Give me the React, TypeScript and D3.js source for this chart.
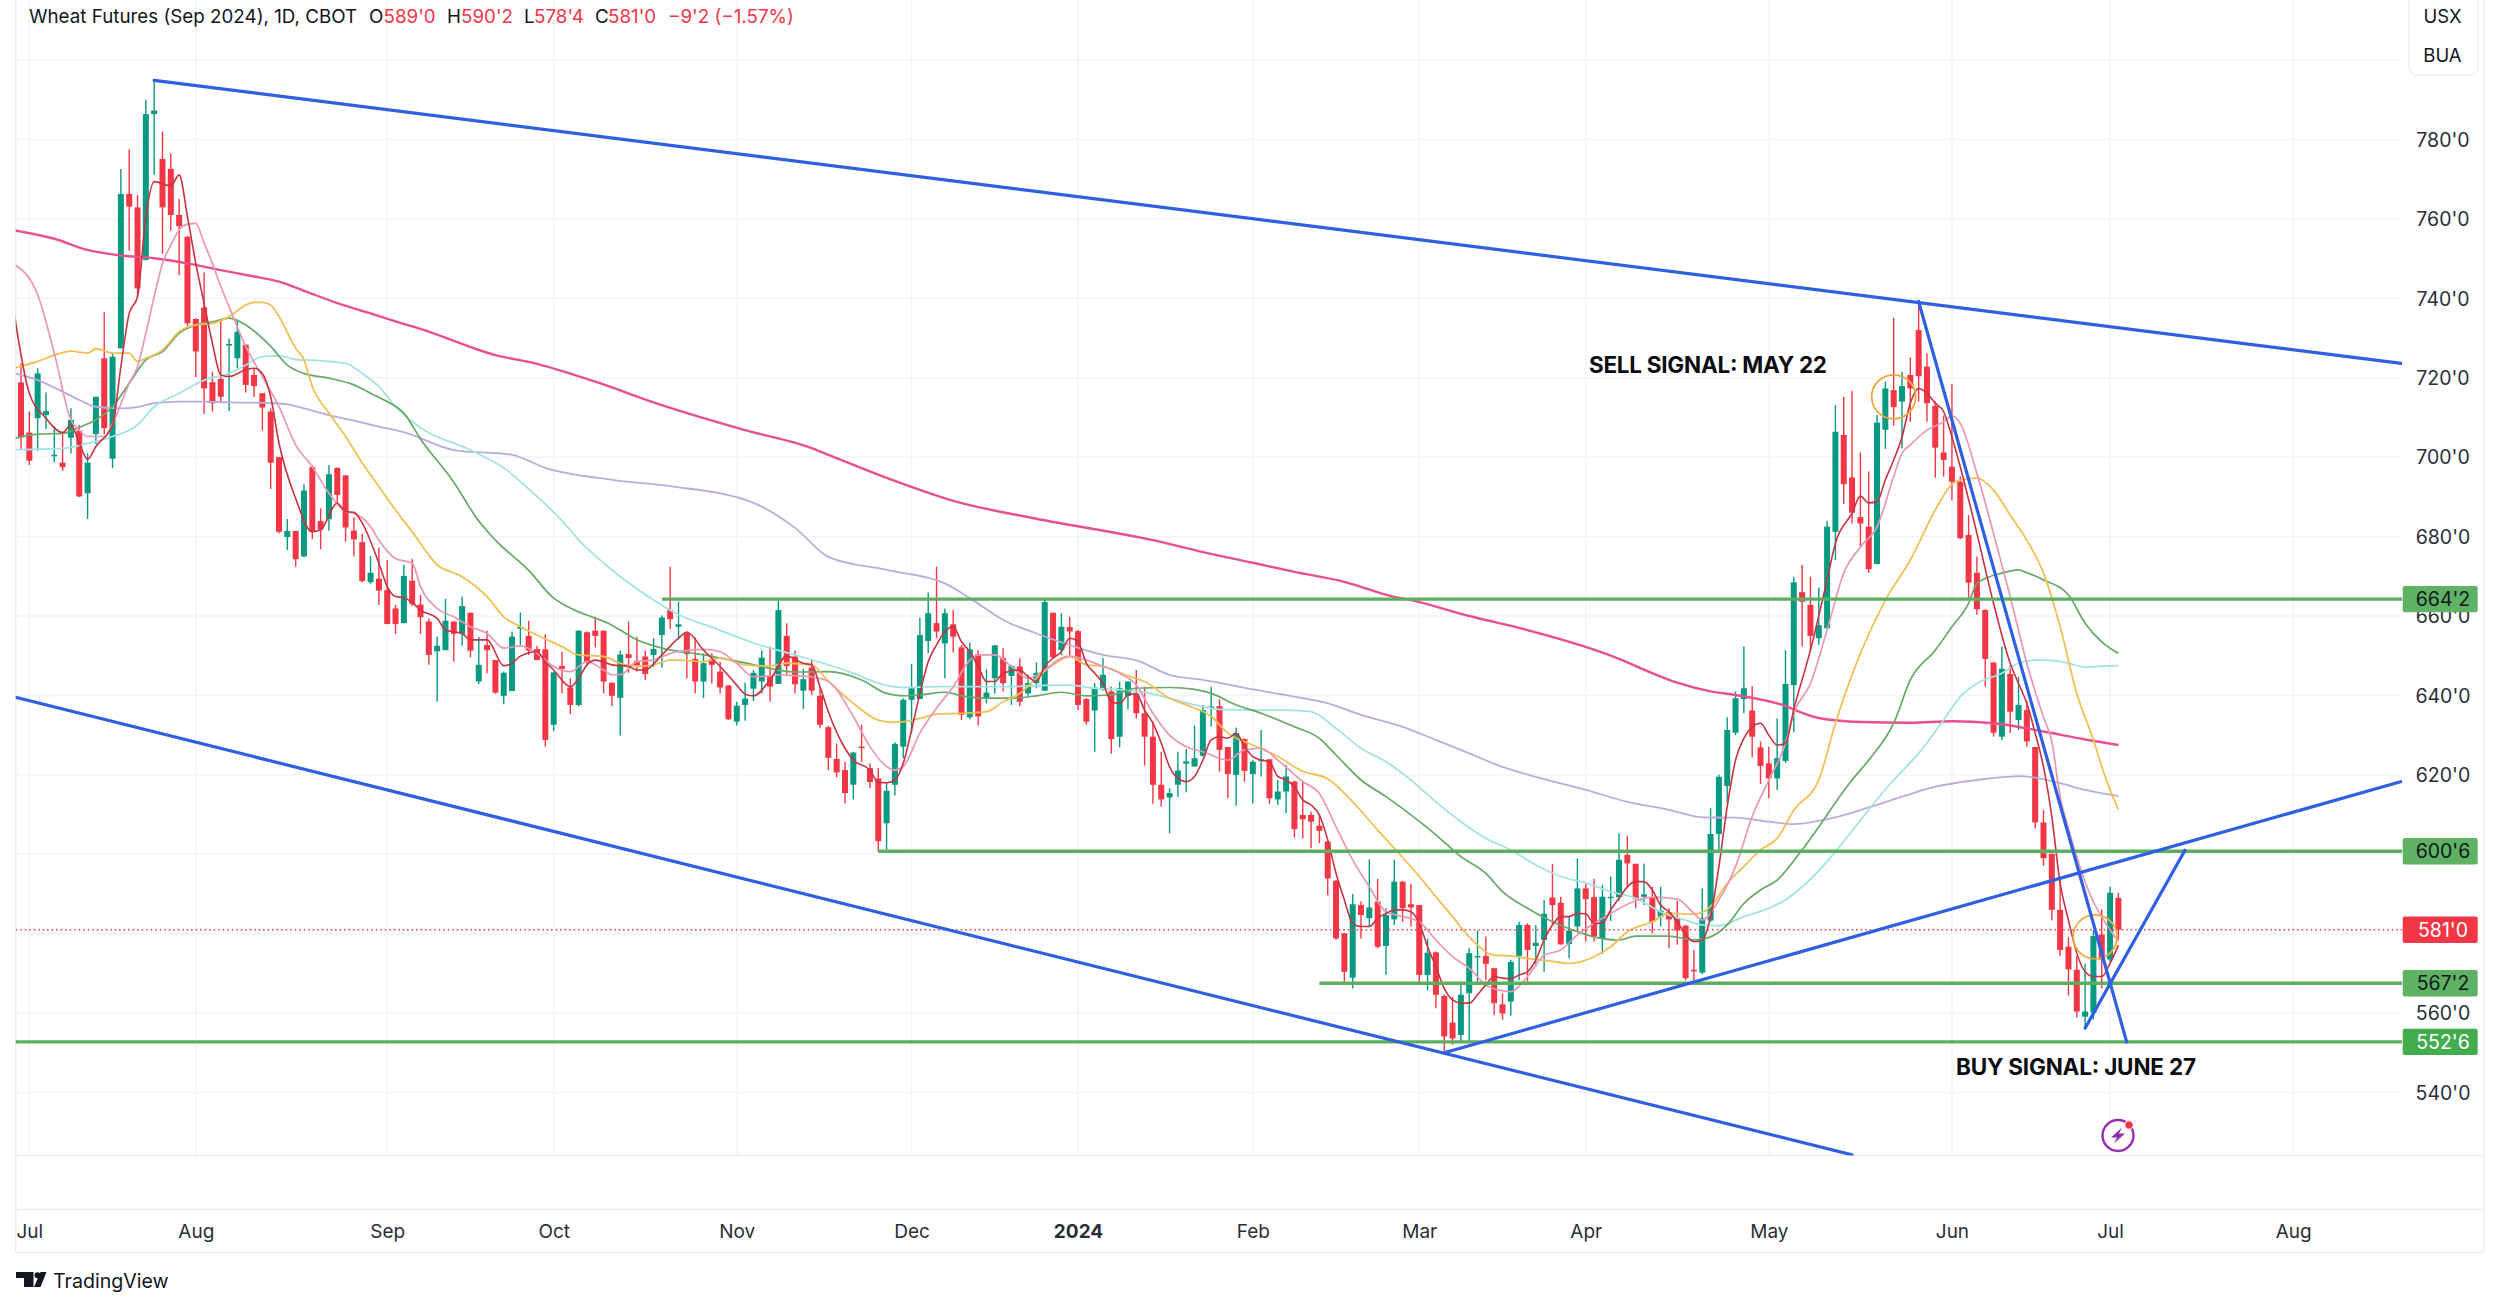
import React, { useEffect, useRef } from 'react';
import * as d3 from 'd3';

const opens = [
  718.8,706.2,709.8,710.6,700.3,698.6,704.9,706.7,690.9,705.8,
  724.9,699.6,727.4,766.3,762.9,749.7,786.4,775.1,772.6,761.0,
  755.5,734.8,737.7,718.9,719.7,728.1,724.9,728.3,720.7,716.1,
  711.5,700.0,679.9,681.4,675.0,697.5,683.9,684.4,697.3,695.4,
  681.5,678.6,668.5,669.4,666.5,661.9,658.2,668.9,662.9,658.6,
  651.1,651.4,658.6,655.5,660.8,643.5,652.7,648.9,639.9,641.1,
  656.8,655.0,651.7,651.6,632.6,647.4,642.0,637.6,655.9,656.3,
  656.3,643.2,639.4,650.4,648.7,649.8,650.2,655.2,661.5,657.3,
  655.6,649.2,643.5,649.1,646.0,642.5,633.4,637.6,641.7,643.5,
  645.0,642.9,655.0,649.8,641.2,647.0,639.9,632.0,624.0,621.2,
  617.5,627.1,621.7,619.1,607.8,617.5,627.1,638.9,639.1,653.7,
  658.2,653.1,657.9,652.1,634.5,650.4,639.3,644.3,649.4,644.9,
  647.3,640.5,643.1,641.2,660.8,651.4,657.2,656.2,639.1,636.2,
  641.4,641.0,629.6,639.9,640.4,635.5,629.6,617.5,614.3,617.5,
  622.8,622.1,624.8,637.0,637.3,627.0,620.0,629.0,620.2,623.6,
  623.9,613.8,615.8,618.3,609.9,609.9,607.2,603.2,593.3,580.1,
  568.9,587.2,583.9,588.1,576.9,583.6,593.1,587.4,587.2,569.6,
  575.3,564.3,557.6,554.5,565.0,574.0,574.4,571.3,562.2,562.9,
  574.4,582.2,576.9,578.4,589.1,587.8,577.4,581.8,591.4,589.2,
  578.8,589.1,589.2,599.8,597.6,589.3,589.2,584.3,585.4,583.9,
  582.0,570.9,570.2,583.3,605.1,617.2,630.6,639.1,636.2,626.9,
  622.9,619.1,623.5,642.6,666.0,662.8,654.4,656.9,681.2,705.6,
  694.9,684.9,682.5,673.1,706.9,716.9,714.0,720.7,732.0,722.8,
  712.9,701.2,697.6,693.8,680.4,670.9,661.5,648.3,629.6,645.4,
  633.8,636.3,627.0,608.0,600.1,586.0,576.7,570.9,559.1,560.1,
  579.8,573.5,589.0,
];
const closes = [
  705.0,699.1,721.1,711.6,700.6,697.5,709.4,690.1,698.6,715.2,
  707.3,725.3,766.3,763.1,742.5,786.4,787.3,762.9,761.0,758.2,
  733.7,726.6,717.3,713.6,715.2,728.5,731.6,718.2,717.9,712.5,
  698.6,681.2,681.4,674.3,691.6,681.2,681.8,695.7,690.5,682.3,
  679.3,668.8,670.9,666.4,658.0,658.0,670.1,663.0,659.7,650.2,
  652.5,658.8,655.5,662.5,651.3,647.7,651.4,640.7,645.7,654.8,
  657.3,651.3,648.9,628.8,645.8,646.7,637.6,656.3,648.3,655.0,
  643.5,639.9,650.3,649.4,647.5,645.4,651.7,659.6,659.2,657.9,
  650.4,643.5,648.1,647.7,642.0,634.0,637.4,639.2,645.7,649.5,
  642.2,661.5,647.4,642.8,644.1,641.2,632.6,624.3,620.6,615.4,
  625.6,626.7,618.2,603.3,616.0,627.8,638.9,641.8,655.2,660.7,
  656.1,660.7,654.8,635.1,651.6,634.7,640.7,652.6,643.1,647.4,
  638.4,643.1,645.7,663.5,649.6,657.3,656.1,637.6,633.4,642.0,
  645.2,629.0,641.8,643.5,635.5,629.6,617.5,613.8,615.4,621.1,
  623.4,624.2,636.3,637.2,626.3,620.2,630.5,621.0,623.3,623.9,
  614.1,615.8,619.6,606.3,608.8,608.2,605.9,593.9,578.8,570.4,
  587.4,584.7,586.6,576.7,584.7,593.1,586.4,586.6,569.6,575.2,
  564.6,554.1,553.6,564.6,575.1,574.4,572.4,562.5,559.9,572.9,
  582.2,575.9,577.7,585.0,587.2,577.3,580.8,591.4,588.7,579.3,
  589.3,589.3,598.6,597.7,588.7,589.9,583.0,585.8,583.6,580.8,
  568.8,570.5,583.9,605.1,619.5,631.3,639.3,641.8,629.6,622.2,
  619.1,624.2,642.9,668.5,663.6,655.0,657.7,682.5,706.4,693.2,
  686.0,683.3,671.8,708.7,717.3,712.6,717.9,717.3,720.4,713.6,
  702.4,699.3,693.8,679.6,668.4,661.7,649.2,630.6,646.7,635.9,
  637.6,628.4,608.0,599.0,586.0,575.9,571.0,560.4,560.4,579.4,
  573.5,590.3,581.0,
];
const highs = [
  723.6,711.5,722.4,716.3,707.7,706.4,712.3,708.1,701.0,715.2,
  736.5,726.3,772.6,777.5,766.0,790.0,794.7,782.0,776.5,765.0,
  755.7,735.0,746.5,721.5,734.7,729.9,734.4,728.5,722.4,716.1,
  712.3,700.1,684.4,681.5,693.2,698.0,687.1,698.0,697.4,695.5,
  684.9,680.7,675.1,677.2,674.1,662.8,672.9,674.4,665.3,659.4,
  654.8,664.3,658.7,664.9,660.9,654.8,656.3,648.9,646.0,656.1,
  660.9,658.8,652.5,655.4,646.0,651.0,644.3,656.3,656.1,659.8,
  656.3,643.2,651.3,658.6,654.8,651.4,654.4,660.1,672.4,663.6,
  656.1,654.6,650.6,650.6,648.5,642.6,638.4,643.2,646.4,651.3,
  652.3,663.9,658.2,651.3,646.7,649.2,642.2,632.3,627.9,623.3,
  625.8,632.6,622.9,621.7,617.9,628.2,639.3,647.9,659.6,666.0,
  672.4,661.9,661.5,652.7,653.3,651.4,646.6,652.7,651.9,647.7,
  649.4,645.2,648.3,664.2,660.9,660.7,659.8,656.5,639.3,643.1,
  649.4,642.2,643.5,643.5,646.4,642.2,633.4,625.8,616.6,625.8,
  626.5,632.4,637.6,642.2,639.0,627.0,631.9,629.2,623.7,631.3,
  623.9,618.7,622.5,618.5,618.3,610.7,609.9,603.2,593.5,580.1,
  590.0,588.1,598.7,593.8,586.4,598.6,593.3,592.5,587.2,578.8,
  575.5,564.6,564.1,567.5,576.3,580.8,579.3,571.3,565.0,573.4,
  583.0,582.6,582.2,588.5,597.6,589.3,584.3,599.0,592.5,593.8,
  592.3,594.4,605.3,604.7,597.6,597.7,591.8,591.8,586.4,588.3,
  582.2,575.9,591.4,611.6,620.0,634.5,641.0,652.3,642.4,628.4,
  627.1,634.2,651.4,669.9,672.9,669.9,667.2,684.0,713.1,715.2,
  716.7,701.2,696.4,710.6,719.0,735.1,721.5,725.1,739.2,726.2,
  714.0,710.5,718.4,695.1,685.4,675.0,661.7,648.3,652.3,647.4,
  644.7,638.7,627.1,611.1,600.2,593.5,579.1,574.4,572.5,580.9,
  586.1,591.8,590.25,
];
const lows = [
  701.8,698.0,701.6,707.0,698.7,696.5,701.0,690.0,684.4,703.3,
  705.8,697.2,727.4,752.0,740.4,749.5,771.1,751.2,757.0,745.8,
  733.0,720.1,710.9,711.5,713.6,711.6,722.4,716.3,715.2,706.7,
  692.0,680.8,676.6,672.4,674.8,679.4,676.8,681.5,688.4,678.7,
  675.0,668.5,668.1,662.8,657.9,655.5,658.2,662.5,655.5,647.7,
  638.4,651.4,648.5,652.5,649.6,642.9,645.6,640.4,637.8,641.1,
  652.7,650.2,648.9,627.1,631.0,640.5,635.3,637.2,647.7,652.1,
  640.5,637.3,629.9,645.7,646.0,643.9,647.2,647.0,656.8,654.1,
  644.3,640.5,639.3,643.0,640.5,633.8,632.4,633.6,638.6,640.5,
  638.4,642.9,645.2,640.5,636.6,640.1,631.7,621.2,619.4,612.8,
  613.8,623.3,616.6,600.7,601.2,614.8,624.2,630.5,639.1,650.6,
  654.4,644.3,650.8,633.8,634.0,632.4,638.0,640.5,641.0,637.6,
  637.3,639.9,641.8,641.2,649.4,650.2,650.2,636.3,632.6,625.8,
  641.2,625.3,626.9,636.5,634.2,622.3,612.7,612.0,605.3,614.5,
  615.6,622.1,624.6,632.2,620.8,614.1,612.2,618.3,612.8,619.6,
  612.7,612.4,610.3,604.2,604.0,601.5,602.8,589.7,578.4,567.5,
  566.2,578.8,581.8,576.3,569.6,582.2,583.0,581.8,567.7,565.7,
  561.2,550.3,552.0,552.8,552.8,567.9,568.3,559.5,558.3,559.3,
  568.3,567.7,571.7,570.4,582.2,577.2,573.8,580.5,578.0,578.0,
  574.9,583.2,588.3,591.8,586.4,587.2,580.1,581.8,576.3,577.2,
  568.2,567.7,569.8,583.0,601.1,613.0,630.0,635.5,624.4,617.7,
  614.1,616.2,623.0,630.7,652.3,651.4,652.7,656.9,674.1,688.2,
  683.3,677.6,670.9,673.0,702.1,707.9,702.2,708.9,714.0,708.9,
  694.8,695.1,689.1,679.3,664.5,660.3,642.2,629.6,628.8,630.6,
  631.3,627.1,606.5,597.1,583.3,574.4,564.4,558.9,556.2,558.4,
  566.2,572.9,578.5,
];

// moving averages, [bar, price]
const fastAvg = [[-1,738.7],[1,716.1],[3,709.8],[5,706.2],[6,708.1],[7,703.5],[8,699.5],[9,702.7],[11,708.1],[12,722.8],[13,736.2],[14,740.4],[15,760.6],[16,769.4],[18,768.3],[19,771.1],[20,760.6],[21,748.8],[22,738.7],[23,728.7],[24,720.7],[25,720.3],[27,722],[28,722.4],[29,721.1],[30,715.2],[31,703.5],[33,689.6],[35,681.2],[36,681.7],[38,688.4],[39,686.3],[40,686.1],[41,683.4],[43,673.3],[44,667.4],[45,664.9],[46,664.6],[47,663.4],[48,661.5],[50,659.4],[51,656.5],[53,655.6],[54,654],[56,654],[58,647.5],[59,648.1],[60,649.9],[62,651],[63,648.5],[64,646.4],[66,642.2],[67,644.3],[68,647.7],[69,648.9],[71,647.7],[73,647.3],[74,646.4],[75,646.4],[77,650.2],[79,654.4],[80,655.9],[82,651.4],[84,647.3],[86,642.6],[87,640.3],[88,639.9],[90,643.9],[92,649.9],[94,648.1],[95,647.7],[96,642.2],[97,635.9],[99,626.7],[100,623.7],[102,621.2],[103,618.1],[104,618],[105,618.7],[106,622.9],[107,631.3],[108,640.5],[109,648.5],[110,652.7],[111,656.1],[112,657.3],[113,653.5],[114,651],[115,647.3],[116,643.5],[117,643.5],[118,645.6],[120,646.4],[121,644.7],[122,643.5],[123,647.3],[124,649.4],[125,651],[126,654.4],[127,653.5],[128,648.1],[129,645.6],[130,643],[131,638.4],[132,638],[133,640.1],[134,640.5],[135,636.3],[136,633],[137,628],[138,622],[139,619.1],[140,618.3],[141,619.6],[142,623.7],[143,628.8],[144,629.6],[145,629.2],[146,630.5],[147,627.1],[148,624.6],[149,623.7],[150,623.3],[151,619.6],[152,618.7],[153,617],[154,613.7],[155,612.4],[156,609.9],[157,603.6],[158,595.2],[159,588.5],[160,582.6],[161,581.8],[162,581.8],[163,583.9],[164,585.1],[165,586],[166,586],[167,585.5],[168,582.6],[169,576.7],[170,571.7],[171,566.2],[172,563.3],[173,562.5],[174,562.5],[175,564.6],[176,567.1],[177,569.2],[178,568.8],[179,568.6],[180,569.6],[181,570.4],[182,573.4],[183,578.4],[184,582.2],[185,584.3],[186,584.3],[187,585.1],[188,585],[189,582.6],[190,582.6],[191,586],[192,588.9],[193,591.8],[194,593.1],[195,593.1],[196,591],[197,587.2],[198,585.5],[199,583],[200,579.7],[201,578],[202,578.4],[203,584.3],[204,596.9],[205,612],[206,623.7],[207,629.2],[208,632.1],[209,633],[210,630],[211,627.5],[212,627.9],[213,636.5],[215,651.4],[217,669.1],[218,678.3],[220,685.9],[221,690.2],[222,688.5],[223,688.8],[224,694.3],[225,699.3],[226,705.1],[227,713.6],[228,717.3],[229,716.1],[230,713.6],[231,711.5],[232,705.1],[233,697.6],[235,680.8],[237,663.2],[239,648.1],[240,643],[241,638],[242,630.5],[243,622],[244,609.5],[245,592.7],[246,583.4],[247,575.1],[248,570.4],[249,569.2],[250,569.2],[251,572.5],[252,577.1]];
const pinkAvg = [[-1,748.8],[2,740.9],[4,726.2],[6,709.4],[7,706.8],[8,705.2],[10,705.2],[11,708.5],[13,718.6],[14,722.8],[15,731.2],[16,740.4],[17,748.8],[18,753.4],[19,757.2],[20,758.7],[21,758.9],[22,753.9],[23,748.8],[24,743],[25,737.9],[27,727.9],[29,720.3],[31,712.7],[33,703.1],[35,697.6],[37,690.9],[39,686.3],[40,685.9],[42,682.5],[43,679.1],[45,674.5],[47,673.3],[48,667.4],[50,661.9],[52,659.8],[54,657.3],[56,655.6],[58,651.9],[60,652.5],[62,650.6],[64,647.3],[66,646],[68,648.5],[70,646.4],[71,645.2],[72,645.2],[74,648.5],[76,648.9],[78,650.6],[80,651.3],[82,651.6],[84,651],[86,648.1],[88,644.7],[90,644.9],[91,645.2],[93,645],[95,644.7],[97,643.5],[100,634.7],[102,627.1],[104,622.1],[105,621.2],[106,622.1],[108,630.5],[110,636.8],[112,642.2],[114,648.9],[115,650.2],[117,650.2],[119,647.3],[121,644.3],[123,646.4],[125,649.4],[126,649.9],[128,648.9],[130,647.3],[132,645.6],[134,642.6],[136,635.5],[138,630],[140,627.1],[142,625.8],[145,623.7],[147,626.3],[149,626.7],[151,623.7],[154,618.3],[156,615.3],[158,606.9],[160,598.6],[162,591.8],[164,585.5],[166,584.3],[168,583],[170,578.4],[172,574.2],[174,571.3],[176,567.1],[178,565.6],[179,565.4],[181,569.2],[183,574.6],[185,575.9],[187,579.7],[189,582.6],[191,585.1],[194,588.3],[196,589.2],[199,588.7],[201,585.1],[202,583.4],[204,588.5],[206,596.9],[208,609.5],[210,618.7],[212,627.9],[213,635.5],[215,643],[217,656.5],[219,670.8],[221,677.4],[223,682.5],[225,695.1],[226,701],[227,703.1],[229,706.8],[231,708.9],[232,710.4],[233,708.5],[235,695.9],[237,680.8],[239,664.9],[241,648.1],[243,634.5],[244,628.4],[245,614.5],[246,606.5],[247,599.4],[248,593],[249,588],[250,584.3],[251,580.9],[252,578]];
const yellowAvg = [[-1,722.4],[2,724.1],[4,725.7],[6,726.7],[8,726.2],[9,727.3],[11,726.2],[13,726.2],[14,724.1],[15,724.9],[17,727],[19,731.6],[21,733.3],[23,733.7],[25,735.4],[27,738.3],[28,739],[29,739],[30,738.3],[31,735.4],[33,727.4],[34,724.5],[35,717.8],[37,711.1],[39,705.2],[41,698.5],[43,692.6],[45,686.7],[47,681.2],[50,672.9],[53,669.9],[56,664.9],[58,659.8],[60,657.3],[62,655.2],[65,652.3],[67,650.2],[70,649.8],[72,648.1],[74,647.4],[76,647.7],[78,648.9],[80,648.8],[82,648.5],[84,649.4],[87,647.7],[90,647.4],[92,648.1],[95,647.7],[97,643.6],[100,638],[103,633.8],[105,633.2],[108,634.2],[110,635.3],[113,635.5],[116,635.9],[118,638.4],[120,640.5],[122,644.3],[124,647.7],[126,649.8],[128,647.7],[130,647.3],[133,644.9],[135,643.5],[138,639.3],[140,637.6],[143,634.7],[145,630.5],[148,627.5],[151,624.6],[154,620.9],[157,619],[160,613.2],[163,606.1],[165,601.5],[168,594.4],[170,589.3],[172,584.3],[174,579.2],[177,574.6],[179,574.4],[181,573.8],[184,573],[186,572.5],[189,574.2],[191,576.7],[193,580.5],[196,583],[198,585.1],[201,584.9],[203,586.8],[205,592.7],[207,596.9],[209,601.1],[211,604],[213,611.1],[216,618.7],[218,633],[221,650.6],[224,664],[227,674.1],[230,686.7],[232,693.2],[233,694.2],[235,694.7],[237,691.7],[239,685.4],[241,679.1],[243,670.8],[245,657.3],[247,640.5],[249,628.8],[250,622.1],[251,616.2],[252,611.3]];
const greenAvg = [[-1,704.6],[2,705.8],[5,706],[7,707.5],[9,709.4],[11,712.7],[13,718.6],[15,724.5],[17,726.6],[19,731.2],[21,733.3],[23,734.1],[25,735],[27,733.3],[30,727.9],[32,723.2],[34,721.1],[37,719.9],[40,718.2],[42,716.1],[44,714],[46,711.1],[48,704.6],[52,693.7],[55,683.9],[57,679.1],[61,671.5],[64,664.5],[66,662],[71,657.7],[74,654],[77,651.9],[82,650.2],[87,648.2],[93,645.9],[97,646],[101,643.9],[104,640.5],[106,639.9],[108,640.1],[111,640.8],[113,639.9],[116,639.3],[119,639.3],[122,639.9],[125,640.8],[128,639.9],[131,640.1],[134,641.8],[138,642],[141,641.5],[143,640.5],[146,637.6],[149,635.5],[153,632.1],[156,629.2],[158,625],[161,618.7],[164,614.5],[167,609.9],[170,604.9],[173,599.4],[176,595.2],[178,590.6],[181,586.4],[184,583],[187,580.5],[189,579.2],[192,578.4],[194,579.4],[198,579.4],[201,578.4],[203,579.2],[205,582.2],[207,587.6],[209,591],[211,593.5],[214,601.1],[220,618.7],[222,623.7],[225,633],[227,643.9],[230,651.4],[232,657.3],[234,663.2],[235,668.2],[238,670.8],[240,671.6],[241,670.9],[243,669.1],[246,665.3],[248,658.2],[250,653.5],[252,650.6]];
const cyanAvg = [[-1,701.8],[2,702],[5,702.2],[8,703.5],[11,705.2],[14,708.1],[16,712.7],[19,716.1],[22,719.4],[25,721.1],[27,723.2],[29,725.3],[31,725.5],[33,724.6],[36,724.3],[39,723.6],[41,721.1],[43,717.8],[45,712.7],[48,707.4],[54,701.8],[58,697.3],[61,692],[65,684],[67,679.2],[71,671.6],[75,665.4],[79,660.3],[83,657.2],[88,653.2],[93,650.2],[97,647.7],[100,645.6],[103,643.1],[106,642],[110,642.2],[114,642.2],[118,642.2],[122,642.5],[126,642.6],[129,641.8],[132,641.4],[135,640.8],[138,639.3],[141,637.6],[144,636.5],[148,636.3],[152,636.3],[155,635.9],[158,631.7],[161,626.7],[164,623.3],[167,618.7],[170,613.2],[173,608.2],[176,604],[179,601.1],[182,597.3],[185,594.4],[188,592.8],[191,590.6],[194,588.9],[197,585.5],[200,583.4],[202,582.2],[204,582],[207,584.3],[210,586.4],[212,588.5],[214,591.8],[225,618.7],[228,625.4],[231,633.8],[233,639.7],[235,643],[238,645.6],[240,648.1],[242,648.9],[244,648.8],[246,648.1],[248,647.1],[250,647.4],[252,647.5]];
const purpleAvg = [[-1,721.3],[2,719.4],[5,716.5],[7,714.4],[9,712.7],[12,712.3],[14,712.6],[16,713.6],[19,714],[22,714],[25,713.8],[29,713.7],[32,713.3],[34,712.3],[37,710.6],[40,709.2],[43,707.7],[46,706.3],[52,701.8],[59,700.6],[63,697.3],[71,694.3],[78,692.7],[88,688.5],[93,682.2],[97,674.9],[104,671.6],[111,668.2],[114,664.5],[118,659],[122,655.6],[126,652.7],[130,650.2],[134,648.8],[138,645.2],[142,643.9],[148,641.5],[153,639.7],[157,638],[161,635.1],[166,632.1],[170,628.8],[174,625.4],[178,622],[182,619.5],[188,616.2],[193,613.2],[198,611.2],[202,609.3],[206,609.2],[210,608.2],[213,607.6],[218,609.3],[222,611.8],[226,614.5],[230,617],[235,618.7],[238,619.4],[240,619.7],[242,619.3],[245,617.9],[248,616.2],[251,615],[252,614.7]];
const magentaAvg = [[-1,757.2],[4,755],[8,752.2],[12,750.8],[16,750.1],[20,748.8],[24,747.1],[28,745.5],[31,744.2],[34,741.9],[38,738.8],[42,736.2],[45,734.2],[48,732.3],[57,725.7],[62,723.5],[69,719],[77,713.1],[87,706.8],[95,702.3],[97,700.6],[105,694],[112,689],[122,684.5],[136,679.1],[142,676.1],[148,673.4],[153,671.1],[159,668.6],[165,664.8],[167,664],[174,660],[180,657],[188,652.2],[192,649.2],[196,645.6],[199,643.2],[203,641],[206,640.1],[211,638],[216,634.3],[221,633.3],[227,633.1],[232,633.5],[237,633],[243,630.9],[248,628.9],[252,627.5]];

// trend lines drawn on the chart: [bar, price, bar, price]
const trendLines = [
  [16, 794.9, 286, 723.6],
  [-1, 639.7, 220, 524.3],
  [171, 550, 286, 618.3],
  [228, 739.2, 253, 552.7],
  [248, 556.2, 260, 601],
];

const levelPrices = [664.25, 600.75, 567.5, 552.75];
const levelLabels = ["664'2", "600'6", "567'2", "552'6"];
const levelStart = [77, 103, 156, -1];
const levelFill = ['#5fb263', '#5fb263', '#5fb263', '#43ac4f'];
const levelText = ['#131722', '#131722', '#131722', '#ffffff'];

const lastPrice = 581;
const priceTicks = [540, 560, 580, 600, 620, 640, 660, 680, 700, 720, 740, 760, 780];
const gridPrices = [540, 560, 580, 600, 620, 640, 660, 680, 700, 720, 740, 760, 780, 800];
const monthBars = [1, 21, 44, 64, 86, 107, 127, 148, 168, 188, 210, 232, 251, 273];
const monthLabels = ['Jul', 'Aug', 'Sep', 'Oct', 'Nov', 'Dec', '2024', 'Feb', 'Mar', 'Apr', 'May', 'Jun', 'Jul', 'Aug'];

// circled signal candles: [bar, price]
const signalMarks = [[225, 715.2], [249.2, 579.2]];

const W = 2499;
const H = 1307;
const FONT = 'Inter, "Liberation Sans", sans-serif';

function WheatChart() {
  const svgRef = useRef<SVGSVGElement>(null);

  useEffect(() => {
    const svg = d3.select(svgRef.current);
    svg.selectAll('*').remove();

    const plotLeft = 15.7;
    const plotRight = 2402;
    const paneBottom = 1155.5;
    const frameRight = 2484;

    const x = d3.scaleLinear().domain([0, 252]).range([21, 2118.4]);
    const y = d3.scaleLinear().domain([540, 780]).range([1092.5, 139.5]);

    svg.append('defs').append('clipPath').attr('id', 'plot')
      .append('rect').attr('x', plotLeft).attr('y', 0)
      .attr('width', plotRight - plotLeft).attr('height', paneBottom);

    // frame
    const frame = svg.append('g').attr('stroke', '#eceef2').attr('stroke-width', 1.5);
    frame.append('line').attr('x1', plotLeft).attr('x2', plotLeft).attr('y1', 0).attr('y2', 1252.5);
    frame.append('line').attr('x1', frameRight).attr('x2', frameRight).attr('y1', 0).attr('y2', 1252.5);
    [paneBottom, 1209.5, 1252.5].forEach(v => {
      frame.append('line').attr('x1', plotLeft).attr('x2', frameRight).attr('y1', v).attr('y2', v);
    });

    // grid
    const grid = svg.append('g').attr('stroke', '#f3f4f7').attr('stroke-width', 1.5);
    grid.selectAll('.h').data(gridPrices).join('line')
      .attr('x1', plotLeft).attr('x2', plotRight)
      .attr('y1', d => y(d)).attr('y2', d => y(d));
    grid.selectAll('.v').data(monthBars).join('line')
      .attr('x1', d => x(d)).attr('x2', d => x(d))
      .attr('y1', 0).attr('y2', paneBottom);

    const plot = svg.append('g').attr('clip-path', 'url(#plot)');

    // candles
    const GREEN = '#089981';
    const RED = '#f23645';
    const candle = plot.selectAll('.candle').data(opens).join('g')
      .attr('fill', (d, i) => (closes[i] >= d ? GREEN : RED))
      .attr('stroke', (d, i) => (closes[i] >= d ? GREEN : RED));
    candle.append('line')
      .attr('x1', (d, i) => x(i)).attr('x2', (d, i) => x(i))
      .attr('y1', (d, i) => y(highs[i])).attr('y2', (d, i) => y(lows[i]))
      .attr('stroke-width', 1.4);
    candle.append('rect')
      .attr('x', (d, i) => x(i) - 3)
      .attr('width', 6)
      .attr('y', (d, i) => y(Math.max(d, closes[i])))
      .attr('height', (d, i) => Math.max(1.5, Math.abs(y(d) - y(closes[i]))))
      .attr('stroke', 'none');

    // moving averages
    const avgLine = d3.line<number[]>()
      .x(d => x(d[0]))
      .y(d => y(d[1]))
      .curve(d3.curveMonotoneX);
    const averages: [number[][], string, number][] = [
      [magentaAvg, '#e8508f', 2.4],
      [purpleAvg, '#bdaadd', 1.8],
      [cyanAvg, '#a2e3e3', 1.8],
      [greenAvg, '#66a866', 1.7],
      [yellowAvg, '#f2bf55', 1.8],
      [pinkAvg, '#e898b4', 1.7],
      [fastAvg, '#c83341', 1.6],
    ];
    averages.forEach(([data, color, width]) => {
      plot.append('path').datum(data)
        .attr('d', avgLine)
        .attr('fill', 'none')
        .attr('stroke', color)
        .attr('stroke-width', width)
        .attr('stroke-linejoin', 'round');
    });

    // signal circles
    plot.selectAll('.signal').data(signalMarks).join('circle')
      .attr('cx', d => x(d[0])).attr('cy', d => y(d[1])).attr('r', 22)
      .attr('fill', 'none').attr('stroke', '#f0a83c').attr('stroke-width', 1.8);

    // last price line
    plot.append('line')
      .attr('x1', plotLeft).attr('x2', plotRight)
      .attr('y1', y(lastPrice)).attr('y2', y(lastPrice))
      .attr('stroke', RED).attr('stroke-width', 1.4).attr('stroke-dasharray', '1.5 3');

    // horizontal support and resistance
    plot.selectAll('.level').data(levelPrices).join('line')
      .attr('x1', (d, i) => x(levelStart[i])).attr('x2', plotRight)
      .attr('y1', d => y(d)).attr('y2', d => y(d))
      .attr('stroke', '#5cad5e').attr('stroke-width', 3.4);

    // trend lines
    plot.selectAll('.trend').data(trendLines).join('line')
      .attr('x1', d => x(d[0])).attr('y1', d => y(d[1]))
      .attr('x2', d => x(d[2])).attr('y2', d => y(d[3]))
      .attr('stroke', '#2f5fe3').attr('stroke-width', 3.2)
      .attr('stroke-linecap', 'round');

    // notes
    const notes = svg.append('g')
      .attr('font-family', FONT).attr('font-weight', 700).attr('font-size', 22.5)
      .attr('fill', '#0b0d12').attr('dominant-baseline', 'central');
    notes.append('text').attr('x', 1589).attr('y', 364).attr('textLength', 238).text('SELL SIGNAL: MAY 22');
    notes.append('text').attr('x', 1956).attr('y', 1066).attr('textLength', 240).text('BUY SIGNAL: JUNE 27');

    // price axis
    const priceAxis = svg.append('g')
      .attr('transform', `translate(${plotRight},0)`)
      .call(d3.axisRight(y).tickValues(priceTicks).tickSize(0).tickFormat(d => `${d}'0`));
    priceAxis.select('.domain').remove();
    priceAxis.selectAll('text')
      .attr('x', 41).attr('dy', '0.35em')
      .attr('text-anchor', 'middle')
      .attr('font-family', FONT).attr('font-size', 19.5).attr('fill', '#2a2e39');

    // level tags
    const tag = svg.selectAll('.tag').data(levelPrices).join('g');
    tag.append('rect')
      .attr('x', plotRight + 0.7).attr('width', 75).attr('height', 26.4)
      .attr('y', d => y(d) - 13.2).attr('rx', 2)
      .attr('fill', (d, i) => levelFill[i]);
    tag.append('text')
      .attr('x', plotRight + 41).attr('y', d => y(d))
      .attr('text-anchor', 'middle').attr('dominant-baseline', 'central')
      .attr('font-family', FONT).attr('font-size', 19.5)
      .attr('fill', (d, i) => levelText[i])
      .text((d, i) => levelLabels[i]);
    svg.append('rect')
      .attr('x', plotRight + 0.7).attr('width', 75).attr('height', 26.4)
      .attr('y', y(lastPrice) - 13.2).attr('rx', 2).attr('fill', RED);
    svg.append('text')
      .attr('x', plotRight + 41).attr('y', y(lastPrice))
      .attr('text-anchor', 'middle').attr('dominant-baseline', 'central')
      .attr('font-family', FONT).attr('font-size', 19.5).attr('fill', '#ffffff')
      .text("581'0");

    // time axis
    const timeAxis = svg.append('g')
      .attr('transform', 'translate(0,1231.5)')
      .call(d3.axisBottom(x).tickValues(monthBars).tickSize(0)
        .tickFormat((d, i) => monthLabels[i]));
    timeAxis.select('.domain').remove();
    timeAxis.selectAll('text')
      .attr('y', 0).attr('dy', '0.35em')
      .attr('font-family', FONT).attr('font-size', 19).attr('fill', '#2a2e39')
      .attr('font-weight', (d, i) => (monthLabels[i] === '2024' ? 700 : 400));

    // header
    const head = svg.append('g')
      .attr('font-family', FONT).attr('font-size', 18.8).attr('dominant-baseline', 'central');
    const headBits: [string, number, string][] = [
      ['Wheat Futures (Sep 2024), 1D, CBOT', 29, '#131722'],
      ['O', 369, '#131722'],
      ["589'0", 383.5, RED],
      ['H', 447, '#131722'],
      ["590'2", 461, RED],
      ['L', 524, '#131722'],
      ["578'4", 534, RED],
      ['C', 595, '#131722'],
      ["581'0", 608, RED],
      ["−9'2 (−1.57%)", 668, RED],
    ];
    headBits.forEach(([t, px, c]) => {
      head.append('text').attr('x', px).attr('y', 16).attr('fill', c).text(t);
    });

    // currency box
    svg.append('rect').attr('x', 2409).attr('y', -10).attr('width', 69).attr('height', 85).attr('rx', 8)
      .attr('fill', '#ffffff').attr('stroke', '#eef0f3').attr('stroke-width', 1.5);
    [['USX', 16], ['BUA', 55]].forEach(([t, py]) => {
      svg.append('text').attr('x', 2442.5).attr('y', py as number)
        .attr('text-anchor', 'middle').attr('dominant-baseline', 'central')
        .attr('font-family', FONT).attr('font-size', 18.5).attr('fill', '#131722').text(t as string);
    });

    // lightning badge
    const badge = svg.append('g').attr('transform', 'translate(2118,1135.5)');
    badge.append('circle').attr('r', 15.5).attr('fill', '#fff')
      .attr('stroke', '#9a2db5').attr('stroke-width', 2.4);
    badge.append('path').attr('d', 'M4,-8 L-7,2 L-1,2 L-4,8 L7,-2 L1,-2 Z').attr('fill', '#8e2fb0');
    badge.append('circle').attr('cx', 11).attr('cy', -10.5).attr('r', 4.2).attr('fill', RED)
      .attr('stroke', '#fff').attr('stroke-width', 1);

    // logo
    const logo = svg.append('g').attr('transform', 'translate(16,1272)').attr('fill', '#131722');
    logo.append('path').attr('d', 'M0,0 H17.5 V15 H8 V6 H0 Z');
    logo.append('circle').attr('cx', 21.5).attr('cy', 3.2).attr('r', 3);
    logo.append('path').attr('d', 'M30.5,0 L24.5,15 H18 L24.5,0 Z');
    svg.append('text').attr('x', 53).attr('y', 1281)
      .attr('dominant-baseline', 'central')
      .attr('font-family', FONT).attr('font-size', 19.6).attr('fill', '#131722')
      .text('TradingView');
  }, []);

  return <svg ref={svgRef} width={W} height={H} style={{ position: 'absolute', left: 0, top: 0, background: '#fff' }} />;
}

export default function App() {
  return <WheatChart />;
}
